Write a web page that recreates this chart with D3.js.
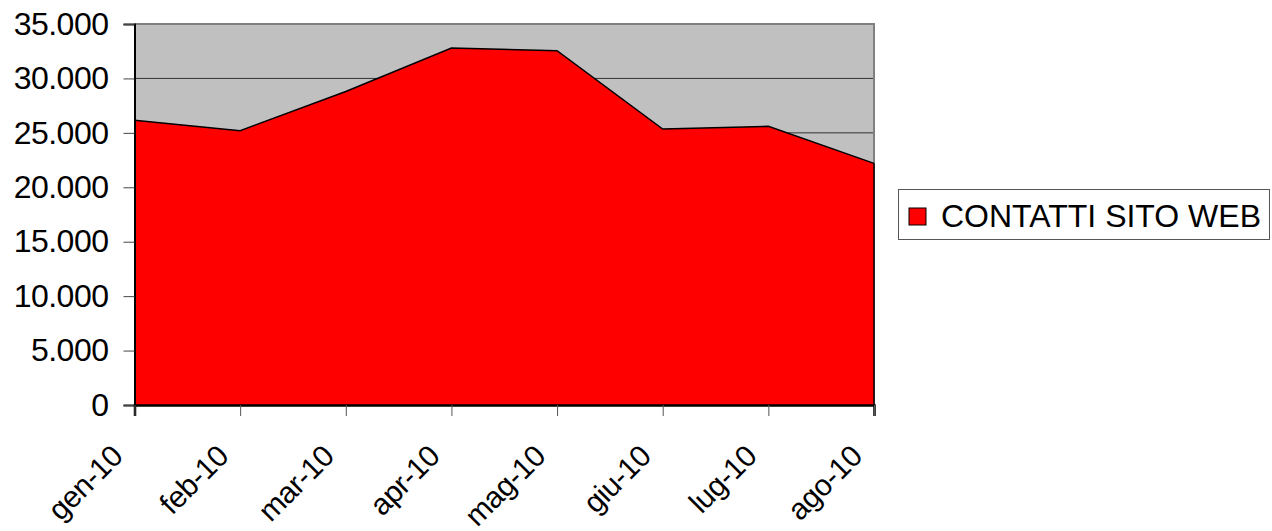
<html>
<head>
	<title>Contatti sito web</title>
</head>
<body style="margin:0;background:#fff">
	<script src="https://cdnjs.cloudflare.com/ajax/libs/d3/7.8.5/d3.min.js"></script>
	<script type="text/javascript">
		// data
		var months = ["gen-10", "feb-10", "mar-10", "apr-10", "mag-10", "giu-10", "lug-10", "ago-10"];
		var contatti = [26150, 25200, 28800, 32800, 32550, 25350, 25600, 22200];
		var yTicks = [0, 5000, 10000, 15000, 20000, 25000, 30000, 35000];
		var seriesName = "CONTATTI SITO WEB";

		var W = 1272, H = 531;
		var plot = {left: 134.5, right: 874, top: 24, bottom: 405};
		var font = "Arial, 'Liberation Sans', sans-serif";

		var svg = d3.select("body").append("svg")
					.attr("width", W)
					.attr("height", H)
					.style("display", "block");

		var x = d3.scalePoint().domain(months).range([plot.left, plot.right]);
		var y = d3.scaleLinear().domain([0, 35000]).range([plot.bottom, plot.top]);

		// plot background
		svg.append("rect")
			.attr("x", plot.left)
			.attr("y", plot.top)
			.attr("width", plot.right - plot.left)
			.attr("height", plot.bottom - plot.top)
			.style("fill", "#c0c0c0");

		// gridlines
		svg.append("g").selectAll("line")
			.data(yTicks.slice(1, -1))
			.enter().append("line")
			.attr("x1", plot.left).attr("x2", plot.right)
			.attr("y1", function(d){ return y(d); })
			.attr("y2", function(d){ return y(d); })
			.style("stroke", "#333")
			.style("stroke-width", "1px");

		// top and right frame
		svg.append("path")
			.attr("d", "M" + [plot.left, plot.top] + " L" + [plot.right, plot.top] + " L" + [plot.right, plot.bottom])
			.style("fill", "none")
			.style("stroke", "#808080")
			.style("stroke-width", "2px");

		// area
		var area = d3.area()
			.x(function(d, i){ return x(months[i]); })
			.y0(y(0))
			.y1(function(d){ return y(d); });
		svg.append("path")
			.datum(contatti)
			.attr("d", area)
			.style("fill", "#ff0000");
		var line = d3.line()
			.x(function(d, i){ return x(months[i]); })
			.y(function(d){ return y(d); });
		svg.append("path")
			.datum(contatti)
			.attr("d", line)
			.style("fill", "none")
			.style("stroke", "#000")
			.style("stroke-width", "1.5px");
		svg.append("line")
			.attr("x1", plot.right).attr("x2", plot.right)
			.attr("y1", y(contatti[contatti.length - 1])).attr("y2", plot.bottom)
			.style("stroke", "#000")
			.style("stroke-width", "1.5px");

		// y axis
		var yAxis = d3.axisLeft(y)
			.tickValues(yTicks)
			.tickSize(11)
			.tickPadding(15)
			.tickFormat(function(d){ return d3.format(",")(d).replace(/,/g, "."); });
		var gy = svg.append("g")
			.attr("transform", "translate(" + plot.left + ",0)")
			.call(yAxis);
		gy.select(".domain").style("stroke", "#000").style("stroke-width", "2px");
		gy.selectAll(".tick line").style("stroke", "#444");
		gy.selectAll("text")
			.style("font-family", font)
			.style("font-size", "32px")
			.style("letter-spacing", "-0.5px")
			.style("fill", "#000");

		// x axis
		var xAxis = d3.axisBottom(x).tickSize(11).tickFormat("");
		var gx = svg.append("g")
			.attr("transform", "translate(0," + plot.bottom + ")")
			.call(xAxis);
		gx.select(".domain").style("stroke", "#000").style("stroke-width", "2.5px");
		gx.selectAll(".tick line").style("stroke", "#555");

		svg.append("g").selectAll("text")
			.data(months)
			.enter().append("text")
			.attr("transform", function(d){ return "translate(" + (x(d) - 10) + ",458) rotate(-45)"; })
			.attr("text-anchor", "end")
			.style("font-family", font)
			.style("font-size", "30px")
			.style("letter-spacing", "-0.5px")
			.text(function(d){ return d; });

		// legend
		var lg = svg.append("g");
		lg.append("rect")
			.attr("x", 898.5).attr("y", 189.5)
			.attr("width", 371).attr("height", 50)
			.style("fill", "#fff")
			.style("stroke", "#555")
			.style("stroke-width", "1px");
		lg.append("rect")
			.attr("x", 909).attr("y", 208)
			.attr("width", 17).attr("height", 17)
			.style("fill", "#ff0000")
			.style("stroke", "#000")
			.style("stroke-width", "1px");
		lg.append("text")
			.attr("x", 941).attr("y", 227)
			.style("font-family", font)
			.style("font-size", "32px")
			.text(seriesName);
	</script>
</body>
</html>
